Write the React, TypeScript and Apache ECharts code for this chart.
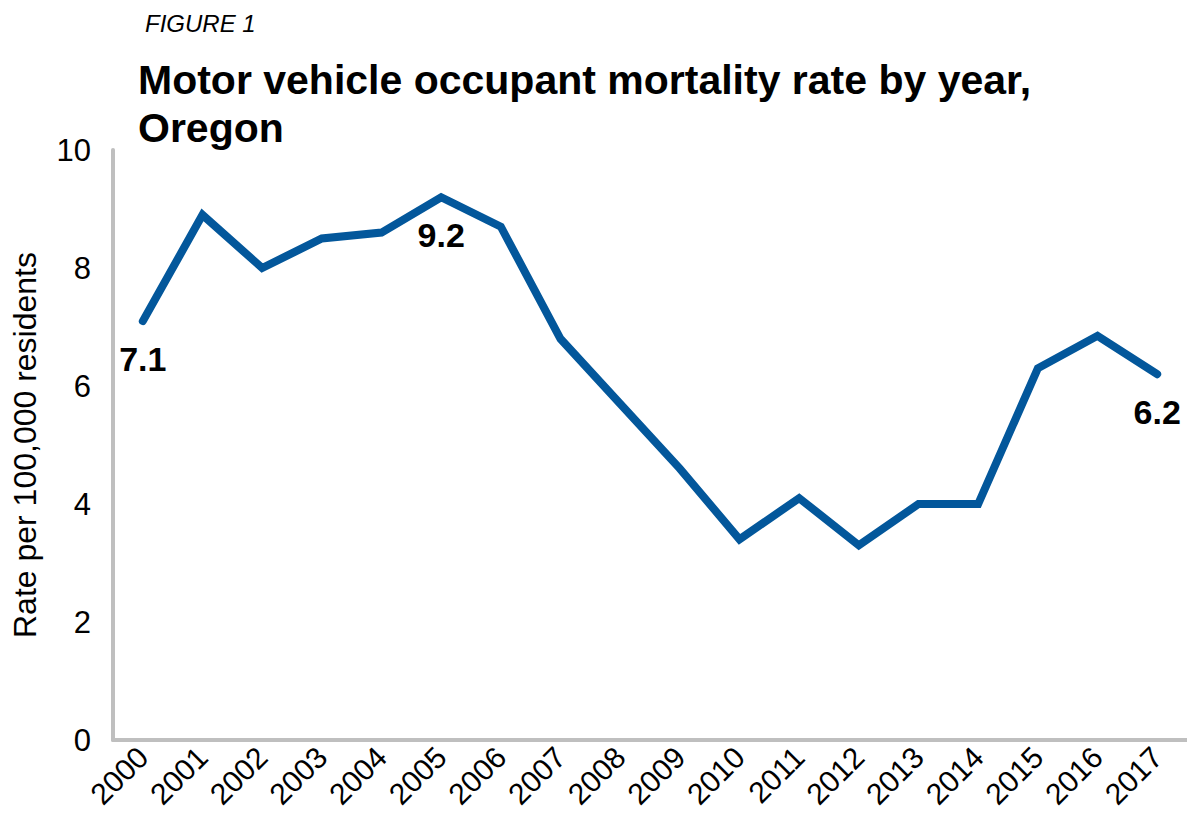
import React, { useEffect, useRef } from "react";
import * as echarts from "echarts";

const years = ["2000","2001","2002","2003","2004","2005","2006","2007","2008","2009","2010","2011","2012","2013","2014","2015","2016","2017"];
const rates = [7.1, 8.9, 8.0, 8.5, 8.6, 9.2, 8.7, 6.8, 5.7, 4.6, 3.4, 4.1, 3.3, 4.0, 4.0, 6.3, 6.85, 6.2];
const labelledYears = ["2000", "2005", "2017"];
const yTicks = { min: 0, max: 10, interval: 2 };

const FONT = "'Liberation Sans', Arial, sans-serif";
const LINE_COLOR = "#03579b";

export default function App() {
  const ref = useRef<HTMLDivElement>(null);
  useEffect(() => {
    if (!ref.current) return;
    const chart = echarts.init(ref.current, undefined, { renderer: "svg" });
    const data = rates.map((v, i) => ({
      value: v,
      label: { show: labelledYears.includes(years[i]) },
    }));
    chart.setOption({
      animation: false,
      backgroundColor: "#ffffff",
      graphic: [
        {
          type: "text",
          left: 145,
          top: 11,
          style: { text: "FIGURE 1", font: `italic 24px ${FONT}`, fill: "#000" },
        },
        {
          type: "text",
          left: 138,
          top: 56,
          style: {
            text: "Motor vehicle occupant mortality rate by year,\nOregon",
            font: `bold 41px ${FONT}`,
            lineHeight: 48,
            fill: "#000",
          },
        },
      ],
      grid: { left: 113, top: 150, width: 1079, bottom: 93, containLabel: false },
      xAxis: {
        type: "category",
        data: years,
        boundaryGap: true,
        axisLine: { show: true, lineStyle: { color: "#bfbfbf", width: 4 } },
        axisTick: { show: false },
        axisLabel: {
          rotate: 45,
          margin: 12,
          fontFamily: FONT,
          fontSize: 30,
          color: "#000",
          interval: 0,
        },
        splitLine: { show: false },
      },
      yAxis: {
        type: "value",
        min: yTicks.min,
        max: yTicks.max,
        interval: yTicks.interval,
        name: "Rate per 100,000 residents",
        nameLocation: "middle",
        nameGap: 72,
        nameTextStyle: { fontFamily: FONT, fontSize: 32, color: "#000" },
        axisLine: { show: true, lineStyle: { color: "#bfbfbf", width: 4 } },
        axisTick: { show: false },
        axisLabel: { fontFamily: FONT, fontSize: 31, color: "#000", margin: 22 },
        splitLine: { show: false },
      },
      series: [
        {
          type: "line",
          data,
          showSymbol: true,
          symbol: "circle",
          symbolSize: 1,
          itemStyle: { color: LINE_COLOR },
          lineStyle: { color: LINE_COLOR, width: 8, cap: "round", join: "miter" },
          label: {
            position: "bottom",
            distance: 20,
            fontFamily: FONT,
            fontWeight: "bold",
            fontSize: 34,
            color: "#000",
            formatter: (p: any) => Number(p.value).toFixed(1),
          },
        },
      ],
    });
    return () => chart.dispose();
  }, []);
  return (
    <div
      ref={ref}
      style={{ position: "fixed", left: 0, top: 0, width: 1187, height: 833 }}
    />
  );
}
